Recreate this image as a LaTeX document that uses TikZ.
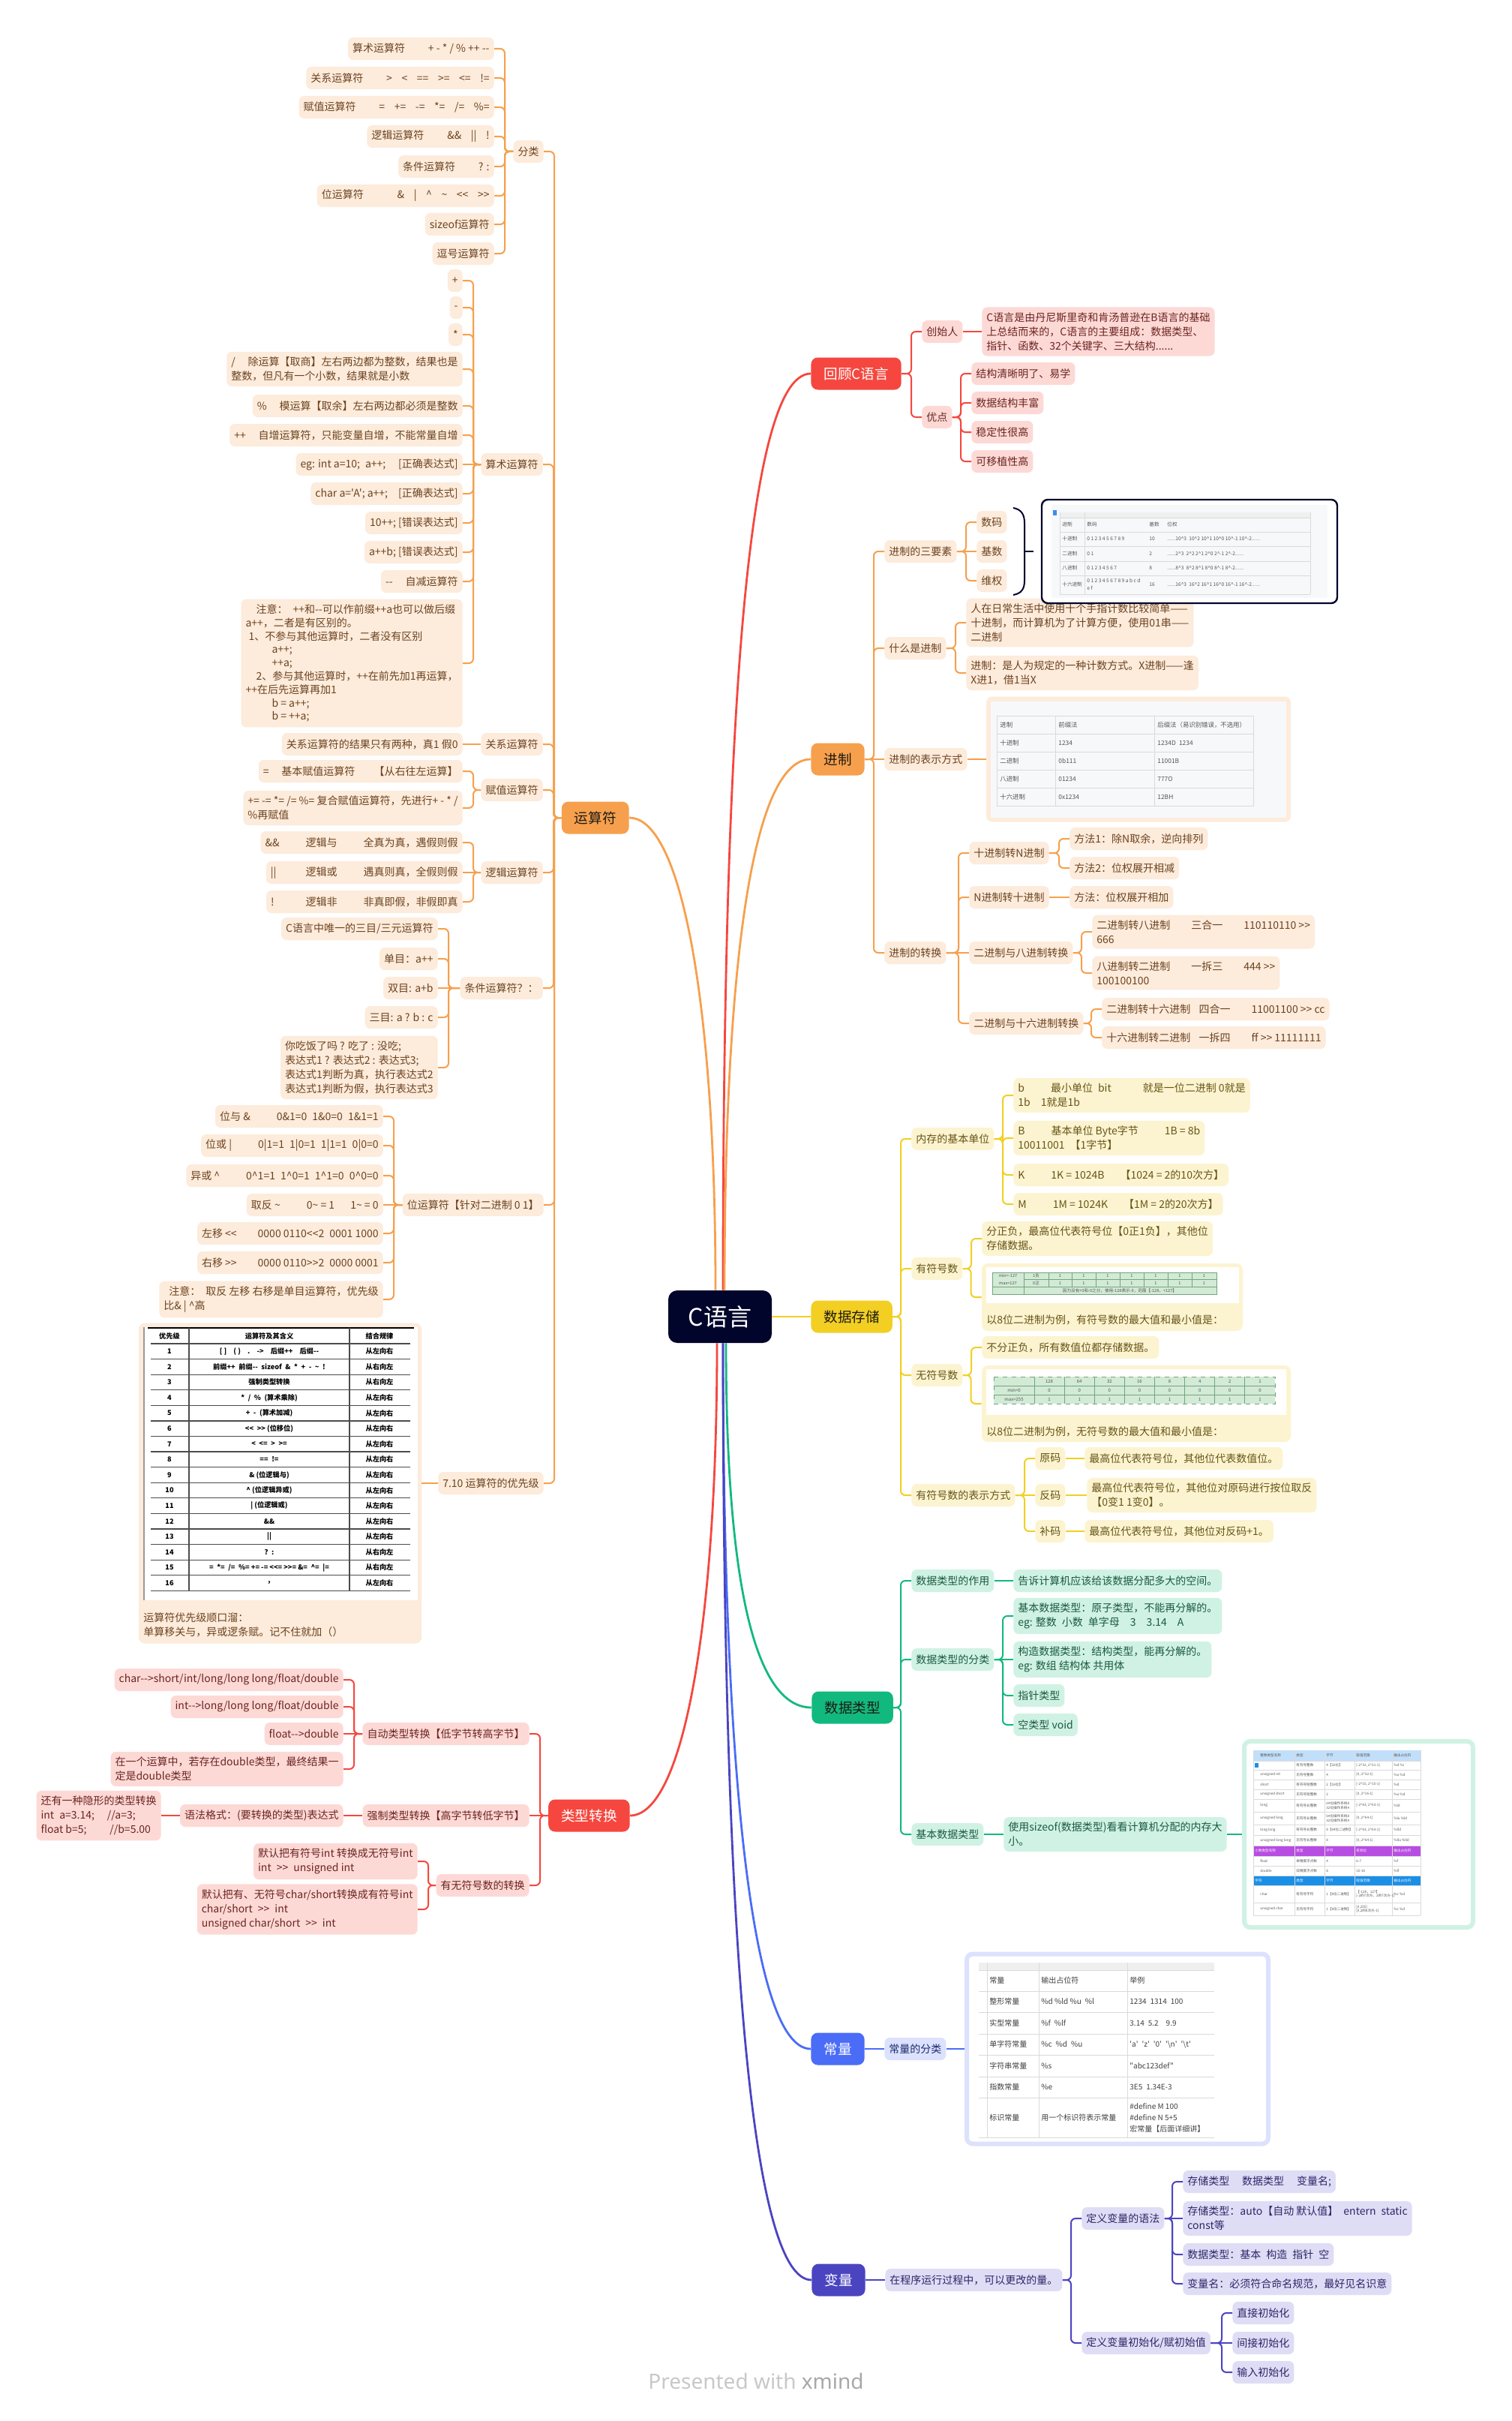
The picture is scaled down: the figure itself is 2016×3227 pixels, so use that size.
\documentclass[tikz,border=0pt]{standalone}
\usepackage{fontspec}
\usetikzlibrary{calc}
\newfontfamily\cjk{Noto Sans CJK SC}
\newfontfamily\wmfont{Noto Sans}

% colours
\definecolor{cNavy}{HTML}{02052B}
\definecolor{cDark}{HTML}{1E1A14}
\definecolor{cRed}{HTML}{F5473F}
\definecolor{cRedL}{HTML}{FDD9D6}
\definecolor{cRedT}{HTML}{6B2420}
\definecolor{cOrg}{HTML}{F6A04D}
\definecolor{cOrgL}{HTML}{FDEBDB}
\definecolor{cOrgT}{HTML}{6B4320}
\definecolor{cYel}{HTML}{F2CF22}
\definecolor{cYelL}{HTML}{FCF4D0}
\definecolor{cYelT}{HTML}{675418}
\definecolor{cGrn}{HTML}{12B97E}
\definecolor{cGrnL}{HTML}{D0F2E4}
\definecolor{cGrnT}{HTML}{1A5A40}
\definecolor{cBlu}{HTML}{4A6CF7}
\definecolor{cBluL}{HTML}{DCE2FD}
\definecolor{cBluT}{HTML}{1C2A6E}
\definecolor{cInd}{HTML}{4B44C1}
\definecolor{cIndL}{HTML}{DFDDF5}
\definecolor{cIndT}{HTML}{2C2668}
\definecolor{cGray}{HTML}{555555}
\definecolor{cGrid}{HTML}{DADADA}
\definecolor{cPale}{HTML}{F7F8FA}
\definecolor{cBar}{HTML}{EFEFEF}
\definecolor{cIcon}{HTML}{3D8BF2}
\definecolor{cTabG}{HTML}{D3EAD6}
\definecolor{cTabGd}{HTML}{6FA67C}
\definecolor{cHdB}{HTML}{C2DFFA}
\definecolor{cHdP}{HTML}{B84DE3}
\definecolor{cHdC}{HTML}{1A8FE6}
\definecolor{cWmA}{HTML}{C8C8C8}
\definecolor{cWmB}{HTML}{A8A8A8}

\newcommand{\crt}{\textasciicircum}
\newcommand{\tld}{\textasciitilde}
\newcommand{\tsp}{\hspace{0.9em}}
% links: to the right / to the left / straight
\newcommand{\rlk}[3]{\draw[lnk,#1] (#2.east) -| ([xshift=-7pt]#3.west) -- (#3.west);}
\newcommand{\llk}[3]{\draw[lnk,#1] (#2.west) -| ([xshift=7pt]#3.east) -- (#3.east);}
\newcommand{\srl}[3]{\draw[lnk,#1] (#2.east) -- (#3.west);}
\newcommand{\sll}[3]{\draw[lnk,#1] (#2.west) -- (#3.east);}

\tikzset{
  root/.style={rounded corners=6pt, fill=cNavy, text=white, minimum width=69pt, minimum height=35pt, font=\cjk\fontsize{16}{18}\selectfont},
  topic/.style={rounded corners=4.5pt, inner xsep=8.5pt, minimum height=21.5pt, font=\cjk\fontsize{9.3}{11}\selectfont},
  sub/.style={rounded corners=3.5pt, inner xsep=3pt, inner ysep=3.5pt, minimum height=15pt, align=left, font=\cjk\fontsize{7}{9.5}\selectfont},
  redT/.style={topic, fill=cRed, text=white},
  redS/.style={sub, fill=cRedL, text=cRedT},
  orgT/.style={topic, fill=cOrg, text=cDark},
  orgS/.style={sub, fill=cOrgL, text=cOrgT},
  yelT/.style={topic, fill=cYel, text=cDark},
  yelS/.style={sub, fill=cYelL, text=cYelT},
  grnT/.style={topic, fill=cGrn, text=cDark},
  grnS/.style={sub, fill=cGrnL, text=cGrnT},
  bluT/.style={topic, fill=cBlu, text=white},
  bluS/.style={sub, fill=cBluL, text=cBluT},
  indT/.style={topic, fill=cInd, text=white},
  indS/.style={sub, fill=cIndL, text=cIndT},
  lnk/.style={line width=1pt, rounded corners=3pt},
  trunk/.style={line width=1.4pt},
  imgbox/.style={rounded corners=4pt, inner sep=0pt},
  tbl/.style n args={2}{inner sep=0pt, text=cGray, font=\cjk\fontsize{#1}{#2}\selectfont},
  ptab/.style={inner sep=0pt, text=black, font=\cjk\bfseries\fontsize{4.6}{5.5}\selectfont},
  captxt/.style={inner sep=0pt, anchor=west, align=left, font=\cjk\fontsize{7}{9.5}\selectfont},
}

\begin{document}
\begin{tikzpicture}[x=0.5pt, y=-0.5pt]
\useasboundingbox (0,0) rectangle (2016,3227);
\fill[white] (0,0) rectangle (2016,3227);

% centre and main topics
\node[root] (c) at (960,1755) {C语言};
\node[redT, anchor=west] (hui) at (1081,498) {回顾C语言};
\node[orgT, anchor=west] (jz) at (1081,1012) {进制};
\node[orgT, anchor=east] (ysf) at (839,1090) {运算符};
\node[yelT, anchor=west] (cc) at (1081,1755) {数据存储};
\node[grnT, anchor=west] (lx) at (1082,2276) {数据类型};
\node[redT, anchor=east] (zh) at (840,2420) {类型转换};
\node[bluT, anchor=west] (cl) at (1081,2731) {常量};
\node[indT, anchor=west] (bl) at (1082,3039) {变量};

\draw[trunk,cRed] ([xshift=2pt]c.north) .. controls +(0,-700) and +(-90,0) .. (hui.west);
\draw[trunk,cOrg] ([xshift=3pt]c.north) .. controls +(0,-420) and +(-80,0) .. (jz.west);
\draw[trunk,cOrg] ([xshift=-3pt]c.north) .. controls +(0,-380) and +(70,0) .. (ysf.east);
\draw[trunk,cYel] (c.east) -- (cc.west);
\draw[trunk,cGrn] ([xshift=4pt]c.south) .. controls +(0,300) and +(-80,0) .. (lx.west);
\draw[trunk,cRed] ([xshift=-2pt]c.south) .. controls +(0,380) and +(70,0) .. (zh.east);
\draw[trunk,cBlu] ([xshift=2pt]c.south) .. controls +(0,560) and +(-80,0) .. (cl.west);
\draw[trunk,cInd] ([xshift=2pt]c.south) .. controls +(0,800) and +(-80,0) .. (bl.west);

% ---- 回顾C语言
\node[redS, anchor=west] (hui1) at (1229,442) {创始人};
\node[redS, anchor=west] (hui1a) at (1309,442) {C语言是由丹尼斯里奇和肯汤普逊在B语言的基础\\上总结而来的，C语言的主要组成：数据类型、\\指针、函数、32个关键字、三大结构......};
\node[redS, anchor=west] (hui2) at (1229,556) {优点};
\node[redS, anchor=west] (hui2a) at (1295,498) {结构清晰明了、易学};
\node[redS, anchor=west] (hui2b) at (1295,537) {数据结构丰富};
\node[redS, anchor=west] (hui2c) at (1295,576) {稳定性很高};
\node[redS, anchor=west] (hui2d) at (1295,615) {可移植性高};
\rlk{cRed}{hui}{hui1} \rlk{cRed}{hui}{hui2} \srl{cRed}{hui1}{hui1a}
\foreach \k in {a,...,d} {\rlk{cRed}{hui2}{hui2\k}}

% ---- 进制
\node[orgS, anchor=west] (jz1) at (1179,735) {进制的三要素};
\node[orgS, anchor=west] (jz1a) at (1302,696) {数码};
\node[orgS, anchor=west] (jz1b) at (1302,735) {基数};
\node[orgS, anchor=west] (jz1c) at (1302,774) {维权};
\node[orgS, anchor=west] (jz2) at (1179,864) {什么是进制};
\node[orgS, anchor=west] (jz2a) at (1288,830) {人在日常生活中使用十个手指计数比较简单——\\十进制，而计算机为了计算方便，使用01串——\\二进制};
\node[orgS, anchor=west] (jz2b) at (1288,897) {进制：是人为规定的一种计数方式。X进制——逢\\X进1，借1当X};
\node[orgS, anchor=west] (jz3) at (1179,1012) {进制的表示方式};
\node[orgS, anchor=west] (jz4) at (1179,1270) {进制的转换};
\node[orgS, anchor=west] (jz4a) at (1292,1137) {十进制转N进制};
\node[orgS, anchor=west] (jz4a1) at (1426,1118) {方法1：除N取余，逆向排列};
\node[orgS, anchor=west] (jz4a2) at (1426,1157) {方法2：位权展开相减};
\node[orgS, anchor=west] (jz4b) at (1292,1196) {N进制转十进制};
\node[orgS, anchor=west] (jz4b1) at (1426,1196) {方法：位权展开相加};
\node[orgS, anchor=west] (jz4c) at (1292,1270) {二进制与八进制转换};
\node[orgS, anchor=west] (jz4c1) at (1456,1242) {二进制转八进制\hspace{2em}三合一\hspace{2em}110110110 >>\\666};
\node[orgS, anchor=west] (jz4c2) at (1456,1297) {八进制转二进制\hspace{2em}一拆三\hspace{2em}444 >>\\100100100};
\node[orgS, anchor=west] (jz4d) at (1292,1364) {二进制与十六进制转换};
\node[orgS, anchor=west] (jz4d1) at (1469,1345) {二进制转十六进制\hspace{0.8em}四合一\hspace{2em}11001100 >> cc};
\node[orgS, anchor=west] (jz4d2) at (1469,1383) {十六进制转二进制\hspace{0.8em}一拆四\hspace{2em}ff >> 11111111};

% brace and table of the three elements
\draw[cNavy, line width=1pt] (1351,677) .. controls (1362,679) and (1366,686) .. (1366,697) -- (1366,774) .. controls (1366,785) and (1362,791) .. (1351,793);
\draw[cNavy, line width=1pt] (1366,735) -- (1378,735);
\node[imgbox, fill=white, draw=cNavy, line width=1.2pt, minimum width=197pt, minimum height=69pt] (jzimg1) at (1586,735) {};
\fill[cPale] (1402,673) rectangle (1770,797);
\fill[cBar] (1413,683) rectangle (1747,690);
\fill[cIcon] (1404,680) rectangle (1409,687);
\foreach \y in {690,709,728,748,767,792} \draw[cGrid, line width=0.4pt] (1413,\y) -- (1747,\y);
\foreach \x in {1413,1446,1747} \draw[cGrid, line width=0.4pt] (\x,683) -- (\x,792);
\foreach \y/\a/\b/\c/\d [count=\i] in {
  699/进制/数码/基数/位权,
  718/十进制/0 1 2 3 4 5 6 7 8 9/10/{......10\crt3\enskip 10\crt2 10\crt1 10\crt0 10\crt-1 10\crt-2......},
  738/二进制/0 1/2/{......2\crt3\enskip 2\crt2 2\crt1 2\crt0 2\crt-1 2\crt-2......},
  757/八进制/0 1 2 3 4 5 6 7/8/{......8\crt3\enskip 8\crt2 8\crt1 8\crt0 8\crt-1 8\crt-2......},
  779/十六进制/{0 1 2 3 4 5 6 7 8 9 a b c d\\e f}/16/{......16\crt3\enskip 16\crt2 16\crt1 16\crt0 16\crt-1 16\crt-2......}}
{
  \node[tbl={3.3}{4.6}, anchor=west] (ja\i) at (1416,\y) {\a};
  \node[tbl={3.3}{4.6}, anchor=west, align=left] (jb\i) at (1449,\y) {\b};
  \node[tbl={3.3}{4.6}, anchor=west] (jc\i) at (1532,\y) {\c};
  \node[tbl={3.3}{4.6}, anchor=west] (jd\i) at (1556,\y) {\d};
}

% table of notations
\node[imgbox, fill=cOrgL, minimum width=203pt, minimum height=83.5pt] (jzimg2) at (1518,1012) {};
\fill[cPale] (1321,935) rectangle (1715,1090);
\draw[cGrid, line width=0.5pt] (1329,954) rectangle (1671,1074);
\foreach \y in {978,1002,1026,1050} \draw[cGrid, line width=0.5pt] (1329,\y) -- (1671,\y);
\foreach \x in {1407,1539} \draw[cGrid, line width=0.5pt] (\x,954) -- (\x,1074);
\foreach \y/\a/\b/\d [count=\i] in {
  966/进制/前缀法/后缀法（易识别错误，不选用）,
  990/十进制/1234/1234D\enskip 1234,
  1014/二进制/0b111/11001B,
  1038/八进制/01234/777O,
  1062/十六进制/0x1234/12BH}
{
  \node[tbl={4.2}{5}, anchor=west] (ka\i) at (1333,\y) {\a};
  \node[tbl={4.2}{5}, anchor=west] (kb\i) at (1411,\y) {\b};
  \node[tbl={4.2}{5}, anchor=west] (kc\i) at (1543,\y) {\d};
}

\foreach \k in {1,2,4} {\rlk{cOrg}{jz}{jz\k}}
\srl{cOrg}{jz}{jz3}
\foreach \k in {a,c} {\rlk{cOrg}{jz1}{jz1\k}}
\srl{cOrg}{jz1}{jz1b}
\rlk{cOrg}{jz2}{jz2a} \rlk{cOrg}{jz2}{jz2b}
\srl{cOrg}{jz3}{jzimg2}
\foreach \k in {a,b,d} {\rlk{cOrg}{jz4}{jz4\k}}
\srl{cOrg}{jz4}{jz4c}
\rlk{cOrg}{jz4a}{jz4a1} \rlk{cOrg}{jz4a}{jz4a2}
\srl{cOrg}{jz4b}{jz4b1}
\rlk{cOrg}{jz4c}{jz4c1} \rlk{cOrg}{jz4c}{jz4c2}
\rlk{cOrg}{jz4d}{jz4d1} \rlk{cOrg}{jz4d}{jz4d2}

% ---- 运算符
\node[orgS, anchor=east] (ys1) at (725,202) {分类};
\node[orgS, anchor=east] (ys1a) at (659,65) {算术运算符\hspace{2.2em}+ - * / \% ++ --};
\node[orgS, anchor=east] (ys1b) at (659,104) {关系运算符\hspace{2.2em}>\tsp<\tsp==\tsp>=\tsp<=\tsp!=};
\node[orgS, anchor=east] (ys1c) at (659,143) {赋值运算符\hspace{2.2em}=\tsp+=\tsp-=\tsp*=\tsp/=\tsp\%=};
\node[orgS, anchor=east] (ys1d) at (659,182) {逻辑运算符\hspace{2.2em}\&\&\tsp||\tsp!};
\node[orgS, anchor=east] (ys1e) at (659,222) {条件运算符\hspace{2.2em}? :};
\node[orgS, anchor=east] (ys1f) at (659,261) {位运算符\hspace{3.2em}\&\tsp|\tsp\crt\tsp\tld\tsp<<\tsp>>};
\node[orgS, anchor=east] (ys1g) at (659,299) {sizeof运算符};
\node[orgS, anchor=east] (ys1h) at (659,338) {逗号运算符};

\node[orgS, anchor=east] (ys2) at (724,619) {算术运算符};
\node[orgS, anchor=east] (ys2a) at (617,374) {+};
\node[orgS, anchor=east] (ys2b) at (617,410) {-};
\node[orgS, anchor=east] (ys2c) at (617,446) {*};
\node[orgS, anchor=east] (ys2d) at (617,492) {/\hspace{1.2em}除运算【取商】左右两边都为整数，结果也是\\整数，但凡有一个小数，结果就是小数};
\node[orgS, anchor=east] (ys2e) at (617,541) {\%\hspace{1.2em}模运算【取余】左右两边都必须是整数};
\node[orgS, anchor=east] (ys2f) at (617,580) {++\hspace{1.2em}自增运算符，只能变量自增，不能常量自增};
\node[orgS, anchor=east] (ys2g) at (617,619) {eg: int a=10;\enskip a++;\hspace{1.2em}[正确表达式]};
\node[orgS, anchor=east] (ys2h) at (617,658) {char a='A'; a++;\hspace{1em}[正确表达式]};
\node[orgS, anchor=east] (ys2i) at (617,697) {10++; [错误表达式]};
\node[orgS, anchor=east] (ys2j) at (617,736) {a++b; [错误表达式]};
\node[orgS, anchor=east] (ys2k) at (617,775) {--\hspace{1.2em}自减运算符};
\node[orgS, anchor=east, font=\cjk\fontsize{7}{8.9}\selectfont] (ys2l) at (617,884) {\hspace{1em}注意：\enskip ++和--可以作前缀++a也可以做后缀\\a++，二者是有区别的。\\\hspace{0.3em}1、不参与其他运算时，二者没有区别\\\hspace{2.5em}a++;\\\hspace{2.5em}++a;\\\hspace{1em}2、参与其他运算时，++在前先加1再运算，\\++在后先运算再加1\\\hspace{2.5em}b = a++;\\\hspace{2.5em}b = ++a;};

\node[orgS, anchor=east] (ys3) at (724,992) {关系运算符};
\node[orgS, anchor=east] (ys3a) at (617,992) {关系运算符的结果只有两种，真1 假0};
\node[orgS, anchor=east] (ys4) at (724,1053) {赋值运算符};
\node[orgS, anchor=east] (ys4a) at (617,1028) {=\hspace{1.2em}基本赋值运算符\hspace{1.8em}【从右往左运算】};
\node[orgS, anchor=east] (ys4b) at (617,1077) {+= -= *= /= \%= 复合赋值运算符，先进行+ - * /\\\%再赋值};
\node[orgS, anchor=east] (ys5) at (724,1163) {逻辑运算符};
\node[orgS, anchor=east] (ys5a) at (617,1123) {\&\&\hspace{2.5em}逻辑与\hspace{2.5em}全真为真，遇假则假};
\node[orgS, anchor=east] (ys5b) at (617,1163) {||\hspace{2.8em}逻辑或\hspace{2.5em}遇真则真，全假则假};
\node[orgS, anchor=east] (ys5c) at (617,1202) {!\hspace{3em}逻辑非\hspace{2.5em}非真即假，非假即真};
\node[orgS, anchor=east] (ys6) at (724,1317) {条件运算符？：};
\node[orgS, anchor=east] (ys6a) at (584,1238) {C语言中唯一的三目/三元运算符};
\node[orgS, anchor=east] (ys6b) at (584,1278) {单目：a++};
\node[orgS, anchor=east] (ys6c) at (584,1317) {双目: a+b};
\node[orgS, anchor=east] (ys6d) at (584,1356) {三目: a ? b : c};
\node[orgS, anchor=east] (ys6e) at (584,1423) {你吃饭了吗 ? 吃了 : 没吃;\\表达式1 ? 表达式2 : 表达式3;\\表达式1判断为真，执行表达式2\\表达式1判断为假，执行表达式3};
\node[orgS, anchor=east] (ys7) at (725,1606) {位运算符【针对二进制 0 1】};
\node[orgS, anchor=east] (ys7a) at (511,1488) {位与 \&\hspace{2.5em}0\&1=0\enskip 1\&0=0\enskip 1\&1=1};
\node[orgS, anchor=east] (ys7b) at (511,1527) {位或 |\hspace{2.5em}0|1=1\enskip 1|0=1\enskip 1|1=1\enskip 0|0=0};
\node[orgS, anchor=east] (ys7c) at (511,1567) {异或 \crt\hspace{2.5em}0\crt1=1\enskip 1\crt0=1\enskip 1\crt1=0\enskip 0\crt0=0};
\node[orgS, anchor=east] (ys7d) at (511,1606) {取反 \tld\hspace{2.5em}0\tld\ = 1\hspace{1.5em}1\tld\ = 0};
\node[orgS, anchor=east] (ys7e) at (511,1644) {左移 <<\hspace{2em}0000 0110<<2\enskip 0001 1000};
\node[orgS, anchor=east] (ys7f) at (511,1683) {右移 >>\hspace{2em}0000 0110>>2\enskip 0000 0001};
\node[orgS, anchor=east] (ys7g) at (511,1732) {\hspace{0.5em}注意：\enskip 取反 左移 右移是单目运算符，优先级\\比\& | \crt 高};
\node[orgS, anchor=east] (ys8) at (725,1977) {7.10 运算符的优先级};

% precedence table
\node[imgbox, fill=cOrgL, minimum width=188.5pt, minimum height=213.5pt] (ysimg) at (373.5,1977) {};
\fill[white] (191,1769) rectangle (557,2133);
\draw[black!40, line width=0.6pt] (192,1769) -- (192,2133);
\draw[black, line width=1.2pt] (197,1770) -- (552,1770);
\foreach \i in {0,...,16} \draw[black!70, line width=0.6pt] (201,{1791+20.58*\i}) -- (547,{1791+20.58*\i});
\draw[black!70, line width=0.6pt] (252,1770) -- (252,2120) (466,1770) -- (466,2120);
\node[ptab] (ph1) at (226,1781) {优先级};
\node[ptab] (ph2) at (359,1781) {运算符及其含义};
\node[ptab] (ph3) at (506,1781) {结合规律};
\foreach \o/\d [count=\i] in {
  {[ ]\quad( )\quad .\quad ->\quad 后缀++\quad 后缀--}/从左向右,
  {前缀++\enskip 前缀--\enskip sizeof\enskip \&\enskip *\enskip +\enskip -\enskip \tld\enskip !}/从右向左,
  {强制类型转换}/从右向左,
  {*\enskip /\enskip \%\enskip (算术乘除)}/从左向右,
  {+\enskip -\enskip (算术加减)}/从左向右,
  {<<\enskip >> (位移位)}/从左向右,
  {<\enskip <=\enskip >\enskip >=}/从左向右,
  {==\enskip !=}/从左向右,
  {\& (位逻辑与)}/从左向右,
  {\crt\ (位逻辑异或)}/从左向右,
  {| (位逻辑或)}/从左向右,
  {\&\&}/从左向右,
  {||}/从左向右,
  {?\enskip :}/从右向左,
  {=\enskip *=\enskip /=\enskip \%= += -= <<= >>= \&=\enskip \crt=\enskip |=}/从右向左,
  {,}/从左向右}
{
  \node[ptab] (pn\i) at (226,{1791+20.58*(\i-0.5)}) {\i};
  \node[ptab] (po\i) at (359,{1791+20.58*(\i-0.5)}) {\o};
  \node[ptab] (pd\i) at (506,{1791+20.58*(\i-0.5)}) {\d};
}
\node[captxt, text=cOrgT] (yscap) at (191,2165.5) {运算符优先级顺口溜：\\单算移关与，异或逻条赋。记不住就加（）};

\foreach \k in {1,...,8} {\llk{cOrg}{ysf}{ys\k}}
\foreach \k in {a,...,h} {\llk{cOrg}{ys1}{ys1\k}}
\foreach \k in {a,...,f,h,i,j,k,l} {\llk{cOrg}{ys2}{ys2\k}}
\sll{cOrg}{ys2}{ys2g}
\sll{cOrg}{ys3}{ys3a}
\llk{cOrg}{ys4}{ys4a} \llk{cOrg}{ys4}{ys4b}
\foreach \k in {a,c} {\llk{cOrg}{ys5}{ys5\k}}
\sll{cOrg}{ys5}{ys5b}
\foreach \k in {a,b,d,e} {\llk{cOrg}{ys6}{ys6\k}}
\sll{cOrg}{ys6}{ys6c}
\foreach \k in {a,b,c,e,f,g} {\llk{cOrg}{ys7}{ys7\k}}
\sll{cOrg}{ys7}{ys7d}
\sll{cOrg}{ys8}{ysimg}

% ---- 数据存储
\node[yelS, anchor=west] (cc1) at (1215,1518) {内存的基本单位};
\node[yelS, anchor=west] (cc1a) at (1351,1460) {b\hspace{2.5em}最小单位\enskip bit\hspace{3em}就是一位二进制 0就是\\1b\hspace{1em}1就是1b};
\node[yelS, anchor=west] (cc1b) at (1351,1517) {B\hspace{2.5em}基本单位 Byte字节\hspace{2.5em}1B = 8b\\10011001\enskip【1字节】};
\node[yelS, anchor=west] (cc1c) at (1351,1566) {K\hspace{2.5em}1K = 1024B\hspace{1.5em}【1024 = 2的10次方】};
\node[yelS, anchor=west] (cc1d) at (1351,1605) {M\hspace{2.5em}1M = 1024K\hspace{1.5em}【1M = 2的20次方】};
\node[yelS, anchor=west] (cc2) at (1215,1691) {有符号数};
\node[yelS, anchor=west] (cc2a) at (1309,1651) {分正负，最高位代表符号位【0正1负】，其他位\\存储数据。};
\node[yelS, anchor=west] (cc3) at (1215,1833) {无符号数};
\node[yelS, anchor=west] (cc3a) at (1309,1796) {不分正负，所有数值位都存储数据。};
\node[yelS, anchor=west] (cc4) at (1215,1993) {有符号数的表示方式};
\node[yelS, anchor=west] (cc4a) at (1380,1944) {原码};
\node[yelS, anchor=west] (cc4b) at (1380,1993) {反码};
\node[yelS, anchor=west] (cc4c) at (1380,2041) {补码};
\node[yelS, anchor=west] (cc4a1) at (1446,1944) {最高位代表符号位，其他位代表数值位。};
\node[yelS, anchor=west] (cc4b1) at (1449,1993) {最高位代表符号位，其他位对原码进行按位取反\\【0变1 1变0】。};
\node[yelS, anchor=west] (cc4c1) at (1446,2041) {最高位代表符号位，其他位对反码+1。};

% signed table
\node[imgbox, fill=cYelL, minimum width=174pt, minimum height=45pt] (ccimg1) at (1483,1729) {};
\fill[white] (1315,1689) rectangle (1652,1737);
\filldraw[fill=cTabG, draw=cTabGd, line width=0.4pt] (1323,1696) rectangle (1622,1725);
\draw[cTabGd, line width=0.4pt] (1365,1705) -- (1622,1705) (1323,1715) -- (1622,1715) (1365,1696) -- (1365,1725);
\foreach \x in {1398,1429,1461,1493,1525,1557,1589} \draw[cTabGd, line width=0.4pt] (\x,1696) -- (\x,1715);
\node[tbl={2.8}{3.4}] (sg1) at (1344,1700.5) {min=-127};
\node[tbl={2.8}{3.4}] (sg2) at (1344,1710) {max=127};
\node[tbl={2.8}{3.4}] (sg3) at (1381.5,1700.5) {1负};
\node[tbl={2.8}{3.4}] (sg4) at (1381.5,1710) {0正};
\foreach \x [count=\i] in {1413.5,1445,1477,1509,1541,1573,1605.5} {
  \node[tbl={2.8}{3.4}] (sgu\i) at (\x,1700.5) {1};
  \node[tbl={2.8}{3.4}] (sgd\i) at (\x,1710) {1};
}
\node[tbl={2.8}{3.4}] (sg5) at (1493,1720) {因为没有+0和-0之分，使用-128表示-0，范围【-128，+127】};
\node[captxt, text=cYelT] (cccap1) at (1315,1759) {以8位二进制为例，有符号数的最大值和最小值是：};

% unsigned table
\node[imgbox, fill=cYelL, minimum width=206pt, minimum height=51pt] (ccimg2) at (1515,1871) {};
\fill[white] (1315,1825) rectangle (1715,1886);
\filldraw[fill=cTabG, draw=cTabGd, dashed, line width=0.4pt] (1325,1835) rectangle (1700,1871);
\draw[cTabGd, line width=0.4pt] (1325,1847) -- (1700,1847) (1325,1859) -- (1700,1859);
\foreach \k in {0,...,7} \draw[cTabGd, line width=0.4pt] ({1379+40.125*\k},1835) -- ({1379+40.125*\k},1871);
\node[tbl={3}{3.6}] (um1) at (1352,1853) {min=0};
\node[tbl={3}{3.6}] (um2) at (1352,1865) {max=255};
\foreach \v [count=\i] in {128,64,32,16,8,4,2,1} {
  \node[tbl={3}{3.6}] (uh\i) at ({1379+40.125*(\i-0.5)},1841) {\v};
  \node[tbl={3}{3.6}] (uz\i) at ({1379+40.125*(\i-0.5)},1853) {0};
  \node[tbl={3}{3.6}] (uo\i) at ({1379+40.125*(\i-0.5)},1865) {1};
}
\node[captxt, text=cYelT] (cccap2) at (1315,1908) {以8位二进制为例，无符号数的最大值和最小值是：};

\foreach \k in {1,...,4} {\rlk{cYel}{cc}{cc\k}}
\foreach \k in {a,...,d} {\rlk{cYel}{cc1}{cc1\k}}
\rlk{cYel}{cc2}{cc2a} \rlk{cYel}{cc2}{ccimg1}
\rlk{cYel}{cc3}{cc3a} \rlk{cYel}{cc3}{ccimg2}
\rlk{cYel}{cc4}{cc4a} \srl{cYel}{cc4}{cc4b} \rlk{cYel}{cc4}{cc4c}
\foreach \k in {a,b,c} {\srl{cYel}{cc4\k}{cc4\k1}}

% ---- 数据类型
\node[grnS, anchor=west] (lx1) at (1215,2107) {数据类型的作用};
\node[grnS, anchor=west] (lx1a) at (1351,2107) {告诉计算机应该给该数据分配多大的空间。};
\node[grnS, anchor=west] (lx2) at (1215,2212) {数据类型的分类};
\node[grnS, anchor=west] (lx2a) at (1351,2154) {基本数据类型：原子类型，不能再分解的。\\eg: 整数\enskip 小数\enskip 单字母\hspace{1em}3\hspace{1em}3.14\hspace{1em}A};
\node[grnS, anchor=west] (lx2b) at (1351,2212) {构造数据类型：结构类型，能再分解的。\\eg: 数组 结构体 共用体};
\node[grnS, anchor=west] (lx2c) at (1351,2260) {指针类型};
\node[grnS, anchor=west] (lx2d) at (1351,2299) {空类型 void};
\node[grnS, anchor=west] (lx3) at (1215,2445) {基本数据类型};
\node[grnS, anchor=west] (lx3a) at (1338,2445) {使用sizeof(数据类型)看看计算机分配的内存大\\小。};

% table of types
\node[imgbox, fill=white, draw=cGrnL, line width=3pt, minimum width=152.5pt, minimum height=124pt] (lximg) at (1811.5,2445) {};
\fill[cHdB] (1671,2333) rectangle (1894,2347);
\fill[cHdP] (1671,2460) rectangle (1894,2474);
\fill[cHdC] (1671,2500) rectangle (1894,2513);
\fill[cHdC] (1673,2350) rectangle (1678,2356);
\foreach \y in {2347,2359,2372,2385,2398,2415,2432,2446,2460,2474,2487,2500,2513,2536,2553} \draw[cGrid, line width=0.4pt] (1671,\y) -- (1894,\y);
\foreach \x in {1671,1726,1766,1806,1856,1894} \draw[cGrid, line width=0.4pt] (\x,2333) -- (\x,2553);
\foreach \y/\a/\b/\c/\d/\e [count=\i] in {
  2340/整数类型名称/类型/字节/取值范围/输出占位符,
  2353/{}/有符号整数/4【32位】/{[-2\crt31, 2\crt31-1]}/\%d \%i,
  2365.5/unsigned int/无符号整数/4/{[0, 2\crt32-1]}/\%u \%d,
  2378.5/short/有符号短整数/2【16位】/{[-2\crt15, 2\crt15-1]}/\%d,
  2391.5/unsigned short/无符号短整数/2/{[0, 2\crt16-1]}/\%u \%d,
  2406.5/long/有符号长整数/{64位操作系统8\\32位操作系统4}/{[-2\crt63, 2\crt63-1]}/\%ld,
  2423.5/unsigned long/无符号长整数/{64位操作系统8\\32位操作系统4}/{[0, 2\crt64-1]}/\%lu \%ld,
  2439/long long/有符号长整数/8【64位二进制】/{[-2\crt63, 2\crt63-1]}/\%lld,
  2453/unsigned long long/无符号长整数/8/{[0, 2\crt64-1]}/\%llu \%lld,
  2480.5/float/单精度浮点数/4/6-7/\%f,
  2493.5/double/双精度浮点数/8/15-16/\%lf,
  2524.5/char/有符号字符/1【8位二进制】/{【-128，127】\\{}[-2的7次方，2的7次方-1]}/\%c \%d,
  2544.5/unsigned char/无符号字符/1【8位二进制】/{[0,255]\\{}[0,2的8次方-1]}/\%c \%d}
{
  \node[tbl={2.3}{2.9}, anchor=west, align=left] (dta\i) at (1680,\y) {\a};
  \node[tbl={2.3}{2.9}, anchor=west, align=left] (dtb\i) at (1728,\y) {\b};
  \node[tbl={2.3}{2.9}, anchor=west, align=left] (dtc\i) at (1768,\y) {\c};
  \node[tbl={2.3}{2.9}, anchor=west, align=left] (dtd\i) at (1808,\y) {\d};
  \node[tbl={2.3}{2.9}, anchor=west, align=left] (dte\i) at (1858,\y) {\e};
}
\foreach \y/\a/\d [count=\i] in {2467/小数类型名称/有效位, 2506.5/字符/取值范围} {
  \node[tbl={2.3}{2.9}, anchor=west, text=white] (dha\i) at (1673,\y) {\a};
  \node[tbl={2.3}{2.9}, anchor=west, text=white] (dhb\i) at (1728,\y) {类型};
  \node[tbl={2.3}{2.9}, anchor=west, text=white] (dhc\i) at (1768,\y) {字节};
  \node[tbl={2.3}{2.9}, anchor=west, text=white] (dhd\i) at (1808,\y) {\d};
  \node[tbl={2.3}{2.9}, anchor=west, text=white] (dhe\i) at (1858,\y) {输出占位符};
}

\foreach \k in {1,2,3} {\rlk{cGrn}{lx}{lx\k}}
\srl{cGrn}{lx1}{lx1a}
\foreach \k in {a,c,d} {\rlk{cGrn}{lx2}{lx2\k}}
\srl{cGrn}{lx2}{lx2b}
\srl{cGrn}{lx3}{lx3a} \srl{cGrn}{lx3a}{lximg}

% ---- 类型转换
\node[redS, anchor=east] (zh1) at (706,2311) {自动类型转换【低字节转高字节】};
\node[redS, anchor=east] (zh1a) at (458,2239) {char-->short/int/long/long long/float/double};
\node[redS, anchor=east] (zh1b) at (458,2275) {int-->long/long long/float/double};
\node[redS, anchor=east] (zh1c) at (458,2311) {float-->double};
\node[redS, anchor=east] (zh1d) at (458,2358) {在一个运算中，若存在double类型，最终结果一\\定是double类型};
\node[redS, anchor=east] (zh2) at (706,2420) {强制类型转换【高字节转低字节】};
\node[redS, anchor=east] (zh2a) at (458,2420) {语法格式：(要转换的类型)表达式};
\node[redS, anchor=east] (zh2b) at (215,2420) {还有一种隐形的类型转换\\int\enskip a=3.14;\hspace{1.2em}//a=3;\\float b=5;\hspace{2.2em}//b=5.00};
\node[redS, anchor=east] (zh3) at (706,2513) {有无符号数的转换};
\node[redS, anchor=east] (zh3a) at (557,2481) {默认把有符号int 转换成无符号int\\int\enskip >>\enskip unsigned int};
\node[redS, anchor=east] (zh3b) at (557,2545) {默认把有、无符号char/short转换成有符号int\\char/short\enskip >>\enskip int\\unsigned char/short\enskip >>\enskip int};
\llk{cRed}{zh}{zh1} \sll{cRed}{zh}{zh2} \llk{cRed}{zh}{zh3}
\foreach \k in {a,b,d} {\llk{cRed}{zh1}{zh1\k}}
\sll{cRed}{zh1}{zh1c}
\sll{cRed}{zh2}{zh2a} \sll{cRed}{zh2a}{zh2b}
\llk{cRed}{zh3}{zh3a} \llk{cRed}{zh3}{zh3b}

% ---- 常量
\node[bluS, anchor=west] (cl1) at (1179,2731) {常量的分类};
\node[imgbox, fill=white, draw=cBluL, line width=3pt, minimum width=201pt, minimum height=126.5pt] (climg) at (1490,2731) {};
\fill[cBar] (1305,2616) rectangle (1619,2626);
\foreach \y in {2626,2654,2682,2711,2739,2768,2796,2849} \draw[cGrid, line width=0.5pt] (1305,\y) -- (1619,\y);
\foreach \x in {1316,1385,1503} \draw[cGrid, line width=0.5pt] (\x,2616) -- (\x,2849);
\foreach \y/\a/\b/\d [count=\i] in {
  2640/常量/输出占位符/举例,
  2668/整形常量/{\%d \%ld \%u\enskip \%l}/{1234\enskip 1314\enskip 100},
  2696.5/实型常量/{\%f\enskip \%lf}/{3.14\enskip 5.2\hspace{1em}9.9},
  2725/单字符常量/{\%c\enskip \%d\enskip \%u}/{'a'\enskip 'z'\enskip '0'\enskip '\textbackslash n'\enskip '\textbackslash t'},
  2753.5/字符串常量/\%s/"abc123def",
  2782/指数常量/\%e/{3E5\enskip 1.34E-3},
  2822.5/标识常量/用一个标识符表示常量/{\#define M 100\\\#define N 5+5\\宏常量【后面详细讲】}}
{
  \node[tbl={5}{7.5}, anchor=west, text=black!75] (ca\i) at (1319,\y) {\a};
  \node[tbl={5}{7.5}, anchor=west, text=black!75] (cb\i) at (1388,\y) {\b};
  \node[tbl={5}{7.5}, anchor=west, align=left, text=black!75] (cd\i) at (1506,\y) {\d};
}
\srl{cBlu}{cl}{cl1} \srl{cBlu}{cl1}{climg}

% ---- 变量
\node[indS, anchor=west] (bl1) at (1180,3039) {在程序运行过程中，可以更改的量。};
\node[indS, anchor=west] (bl1a) at (1442,2957) {定义变量的语法};
\node[indS, anchor=west] (bl1a1) at (1577,2908) {存储类型\hspace{1.2em}数据类型\hspace{1.2em}变量名;};
\node[indS, anchor=west] (bl1a2) at (1577,2957) {存储类型：auto【自动 默认值】\enskip entern\enskip static\\const等};
\node[indS, anchor=west] (bl1a3) at (1577,3005) {数据类型：基本\enskip 构造\enskip 指针\enskip 空};
\node[indS, anchor=west] (bl1a4) at (1577,3044) {变量名：必须符合命名规范，最好见名识意};
\node[indS, anchor=west] (bl1b) at (1442,3123) {定义变量初始化/赋初始值};
\node[indS, anchor=west] (bl1b1) at (1643,3083) {直接初始化};
\node[indS, anchor=west] (bl1b2) at (1643,3123) {间接初始化};
\node[indS, anchor=west] (bl1b3) at (1643,3162) {输入初始化};
\srl{cInd}{bl}{bl1}
\rlk{cInd}{bl1}{bl1a} \rlk{cInd}{bl1}{bl1b}
\foreach \k in {1,3,4} {\rlk{cInd}{bl1a}{bl1a\k}}
\srl{cInd}{bl1a}{bl1a2}
\foreach \k in {1,3} {\rlk{cInd}{bl1b}{bl1b\k}}
\srl{cInd}{bl1b}{bl1b2}

% watermark
\node[font=\wmfont\fontsize{14}{16}\selectfont] (wm) at (1008,3174) {\textcolor{cWmA}{Presented with} \textcolor{cWmB}{\bfseries xmind}};
\end{tikzpicture}
\end{document}
